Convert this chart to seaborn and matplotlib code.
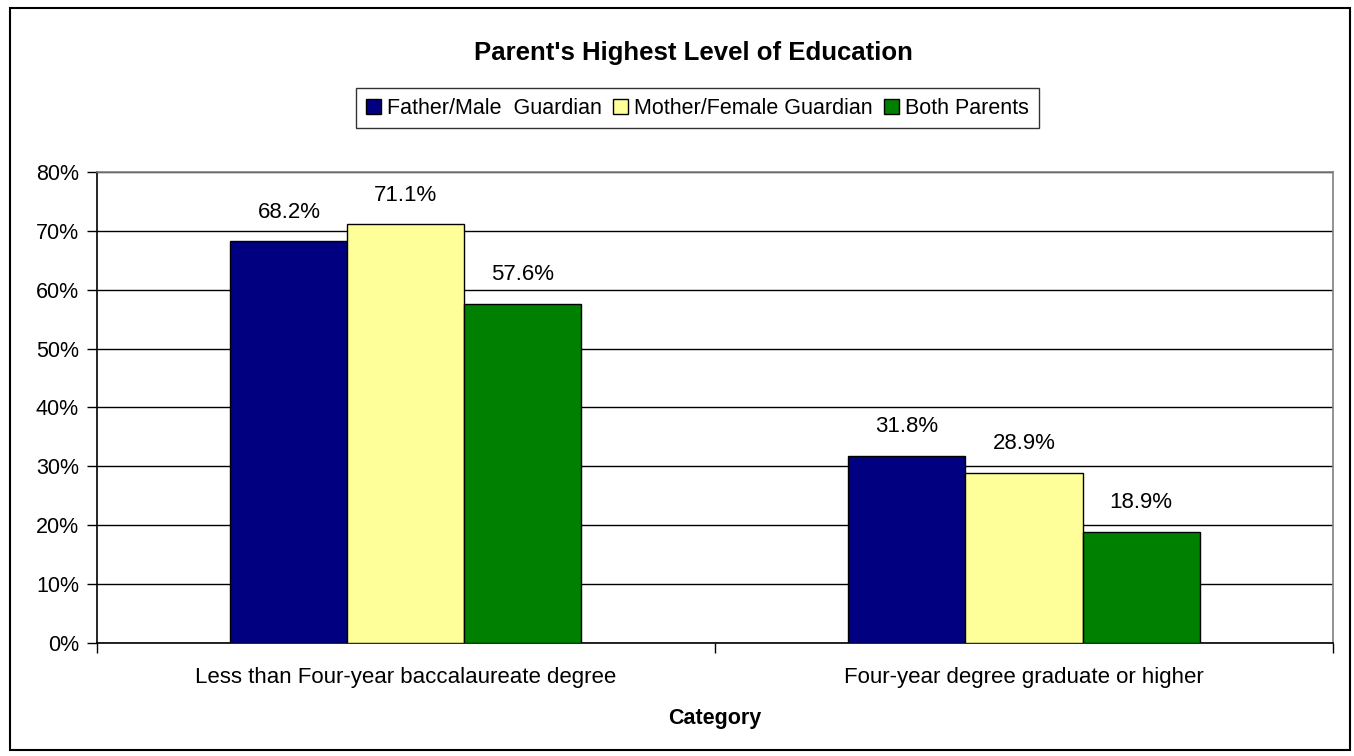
import matplotlib
matplotlib.use("Agg")
import matplotlib.pyplot as plt
from matplotlib.patches import Rectangle, Patch
from matplotlib.ticker import FixedLocator
import pandas as pd
import seaborn as sns

# Data
categories = ["Less than Four-year baccalaureate degree", "Four-year degree graduate or higher"]
series = ["Father/Male  Guardian", "Mother/Female Guardian", "Both Parents"]
father = [68.2, 31.8]
mother = [71.1, 28.9]
both = [57.6, 18.9]
colors = ["#000080", "#FFFF99", "#008000"]
y_ticks = [0, 10, 20, 30, 40, 50, 60, 70, 80]

rows = []
for name, vals in zip(series, [father, mother, both]):
    for cat, v in zip(categories, vals):
        rows.append({"Category": cat, "Parent": name, "Value": v})
df = pd.DataFrame(rows)

sns.set_theme(style="white")
plt.rcParams["font.family"] = ["Liberation Sans", "DejaVu Sans"]
plt.rcParams["text.color"] = "black"
plt.rcParams["axes.labelcolor"] = "black"
plt.rcParams["xtick.color"] = "black"
plt.rcParams["ytick.color"] = "black"

fig = plt.figure(figsize=(13.54, 7.56), dpi=100)
ax = fig.add_axes([0.0716, 0.1495, 0.9129, 0.623])

sns.barplot(data=df, x="Category", y="Value", hue="Parent", order=categories,
            hue_order=series, palette=colors, width=0.568, gap=0,
            edgecolor="black", linewidth=1.0, saturation=1, ax=ax, legend=False,
            zorder=3)

ax.set_xlim(-0.5, 1.5)
ax.set_ylim(0, 80)
ax.set_yticks(y_ticks)
ax.set_yticklabels([f"{t}%" for t in y_ticks], fontsize=15.5)
ax.yaxis.grid(True, color="black", linewidth=1.0, zorder=0)
ax.set_axisbelow(True)

ax.set_xticks(range(len(categories)))
ax.set_xticklabels(categories, fontsize=16)
ax.tick_params(axis="x", which="major", length=0, pad=17)
ax.xaxis.set_minor_locator(FixedLocator([-0.5, 0.5, 1.5]))
ax.tick_params(axis="x", which="minor", bottom=True, length=7, width=1, color="black")
ax.tick_params(axis="y", left=True, length=7, width=1, color="black", pad=6)

ax.set_xlabel("Category", fontsize=15.5, fontweight="bold", labelpad=15)
ax.set_ylabel("")

for side in ["left", "bottom"]:
    ax.spines[side].set_color("black")
    ax.spines[side].set_linewidth(1.2)
for side in ["top", "right"]:
    ax.spines[side].set_color("#808080")
    ax.spines[side].set_linewidth(1.2)

# Value labels above each bar
for cont, vals in zip(ax.containers, [father, mother, both]):
    for bar, v in zip(cont, vals):
        ax.annotate(f"{v:.1f}%", (bar.get_x() + bar.get_width() / 2, v),
                    xytext=(0, 21), textcoords="offset points",
                    ha="center", va="center", fontsize=16, color="black")

fig.text(0.5125, 0.93, "Parent's Highest Level of Education", ha="center",
         va="center", fontsize=18.5, fontweight="bold")

handles = [Patch(facecolor=c, edgecolor="black", linewidth=1.0) for c in colors]
leg = fig.legend(handles, series, loc="center", bbox_to_anchor=(0.515, 0.857),
                 ncol=3, frameon=True, fontsize=15.5, handlelength=0.7,
                 handleheight=0.7, handletextpad=0.3, columnspacing=0.5,
                 borderpad=0.45, fancybox=False, edgecolor="black")
leg.get_frame().set_linewidth(1.0)

# Outer chart border
fig.patches.append(Rectangle((0.0075, 0.008), 0.9895, 0.981, transform=fig.transFigure,
                             fill=False, edgecolor="black", linewidth=1.5))

fig.savefig("out.png", dpi=100)
